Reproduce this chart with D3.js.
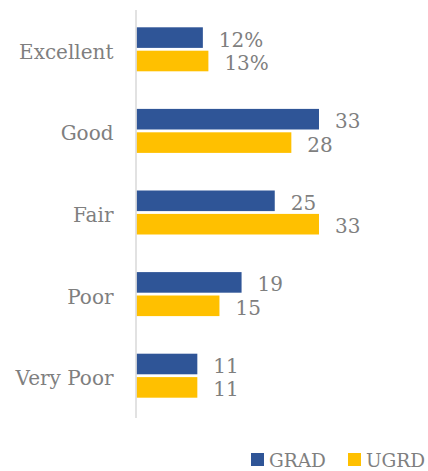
<!DOCTYPE html>
<html>
<head>
<meta charset="utf-8">
<script src="https://cdn.jsdelivr.net/npm/d3@7"></script>
<style>
  body { margin: 0; background: #fff; }
  text { font-family: "DejaVu Serif", serif; fill: #7f7f7f; }
</style>
</head>
<body>
<script>
// chart data
var categories = ["Excellent", "Good", "Fair", "Poor", "Very Poor"];
var series = ["GRAD", "UGRD"];
var gradValues = [12, 33, 25, 19, 11];
var ugrdValues = [13, 28, 33, 15, 11];
var valueLabels = {
  GRAD: ["12%", "33", "25", "19", "11"],
  UGRD: ["13%", "28", "33", "15", "11"]
};
var colors = { GRAD: "#2f5597", UGRD: "#ffc000" };

var w = 428, h = 471;
var axisX = 136.5;
var plotTop = 10, plotBottom = 418;
var fontSize = "20px";

var svg = d3.select("body").append("svg")
  .attr("width", w)
  .attr("height", h);

var x = d3.scaleLinear().domain([0, 35]).range([axisX, axisX + 35 * 5.53]);
var y = d3.scaleBand().domain(categories).range([plotTop, plotBottom]).paddingInner(0).paddingOuter(0);
var inner = d3.scaleBand().domain(series).range([0, 44]).paddingInner(0.12);
var off = (y.bandwidth() - 44) / 2 - 1.5;

var rows = categories.map(function(c, i) {
  return { cat: c, GRAD: gradValues[i], UGRD: ugrdValues[i], i: i };
});

var groups = svg.selectAll("g.cat")
  .data(rows)
  .enter().append("g")
  .attr("class", "cat")
  .attr("transform", function(d) { return "translate(0," + (y(d.cat) + off) + ")"; });

series.forEach(function(s) {
  groups.append("rect")
    .attr("x", x(0))
    .attr("y", inner(s))
    .attr("width", function(d) { return x(d[s]) - x(0); })
    .attr("height", inner.bandwidth())
    .attr("fill", colors[s]);

  groups.append("text")
    .attr("x", function(d) { return x(d[s]) + 16; })
    .attr("y", inner(s) + inner.bandwidth() / 2 + 2)
    .attr("dy", "0.35em")
    .style("font-size", fontSize)
    .text(function(d) { return valueLabels[s][d.i]; });
});

// category labels
svg.selectAll("text.cat")
  .data(categories)
  .enter().append("text")
  .attr("class", "cat")
  .attr("x", axisX - 23)
  .attr("y", function(d) { return y(d) + y.bandwidth() / 2 + 1; })
  .attr("dy", "0.35em")
  .attr("text-anchor", "end")
  .style("font-size", fontSize)
  .text(function(d) { return d; });

// vertical axis line
svg.append("line")
  .attr("x1", axisX - 0.5).attr("x2", axisX - 0.5)
  .attr("y1", plotTop).attr("y2", plotBottom)
  .attr("stroke", "#d9d9d9")
  .attr("stroke-width", 1.5);

// legend
var legendX = [251, 348];
var legend = svg.selectAll("g.legend")
  .data(series)
  .enter().append("g")
  .attr("class", "legend")
  .attr("transform", function(d, i) { return "translate(" + legendX[i] + ",453)"; });

legend.append("rect")
  .attr("width", 13).attr("height", 13)
  .attr("fill", function(d) { return colors[d]; });

legend.append("text")
  .attr("x", 18)
  .attr("y", 13.5)
  .style("font-size", "18.5px")
  .text(function(d) { return d; });
</script>
</body>
</html>
